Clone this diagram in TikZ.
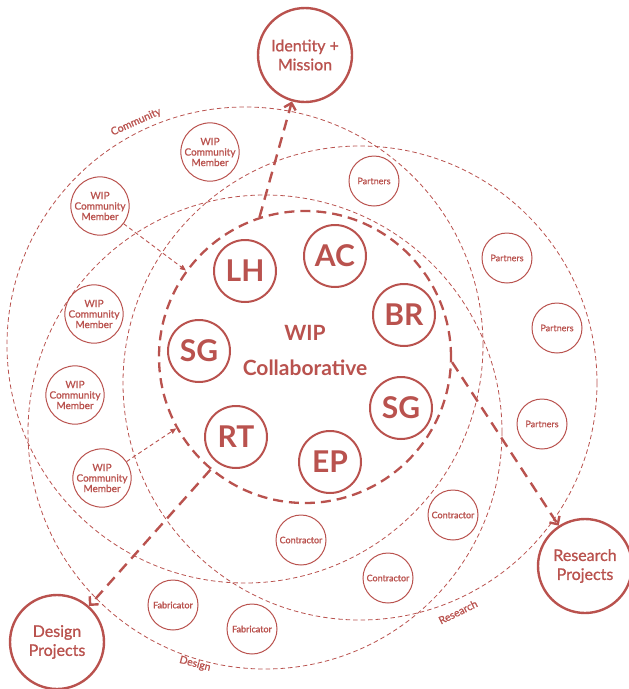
\documentclass[tikz,border=0pt]{standalone}
\usepackage{fontspec}
\setmainfont{Lato}
\newfontfamily\med{Lato}[FakeBold=1]
\usetikzlibrary{arrows.meta}
\definecolor{wipred}{HTML}{B9524E}
\begin{document}
\begin{tikzpicture}[x=1pt,y=-1pt,
  every node/.style={text=wipred},
  ring/.style={circle, draw=wipred, line width=0.8pt, dash pattern=on 4.5pt off 3pt, inner sep=0pt},
  corering/.style={circle, draw=wipred, line width=2.3pt, dash pattern=on 10pt off 6pt, minimum size=292pt, inner sep=0pt},
  member/.style={circle, draw=wipred, line width=2pt, minimum size=62pt, inner sep=0pt, font=\fontsize{30}{30}\selectfont\bfseries},
  smallring/.style={circle, draw=wipred, line width=1pt, minimum size=50pt, inner sep=0pt, align=center, font=\med\fontsize{9}{10}\selectfont},
  wcm/.style={smallring, minimum size=56pt, font=\med\fontsize{10}{10.5}\selectfont},
  bigring/.style={circle, draw=wipred, line width=2.4pt, minimum size=94pt, inner sep=0pt, align=center, font=\med\fontsize{16}{19}\selectfont},
  bigarrow/.style={draw=wipred, line width=2.4pt, dash pattern=on 11pt off 7pt, -{Straight Barb[length=6pt,width=12pt]}},
  thinarrow/.style={draw=wipred, line width=0.9pt, dash pattern=on 4pt off 3pt, -{Triangle[length=6pt,width=5pt]}},
  ringlabel/.style={font=\med\fontsize{10.5}{12}\selectfont}
]
\useasboundingbox (0,0) rectangle (629,689);

% large thin dashed rings
\node[ring, minimum size=476pt] (community) at (245,345) {};
\node[ring, minimum size=474pt] (design) at (265,432) {};
\node[ring, minimum size=474pt] (research) at (360,383) {};
\node[ringlabel, rotate=24] (commlabel) at (136,122) {Community};
\node[ringlabel, rotate=-15] (deslabel) at (195,664) {Design};
\node[ringlabel, rotate=26] (reslabel) at (458,612) {Research};

% core
\node[corering] (wip) at (305,357) {};
\node[align=center, font=\fontsize{21}{35}\selectfont\bfseries] (wiptext) at (305,350) {WIP\\Collaborative};

\node[member] (lh) at (245,271) {LH};
\node[member] (ac) at (335,256) {AC};
\node[member] (br) at (404,315) {BR};
\node[member] (sgl) at (199,351) {SG};
\node[member] (sgr) at (401,408) {SG};
\node[member] (rt) at (236,437) {RT};
\node[member] (ep) at (330,462) {EP};

% outcome circles
\node[bigring] (ident) at (305,55) {Identity +\\Mission};
\node[bigring] (dproj) at (57,642) {Design\\Projects};
\node[bigring] (rproj) at (585,566) {Research\\Projects};

% community members
\node[wcm] (wcma) at (210,152) {WIP\\Community\\Member};
\node[wcm] (wcmb) at (100,206) {WIP\\Community\\Member};
\node[wcm] (wcmc) at (94,314) {WIP\\Community\\Member};
\node[wcm] (wcmd) at (75,395) {WIP\\Community\\Member};
\node[wcm] (wcme) at (102,478) {WIP\\Community\\Member};

% partners
\node[smallring] (pa) at (374,181) {Partners};
\node[smallring] (pb) at (507,258) {Partners};
\node[smallring] (pc) at (557,328) {Partners};
\node[smallring] (pd) at (542,424) {Partners};

% contractors and fabricators
\node[smallring] (ca) at (301,540) {Contractor};
\node[smallring] (cb) at (388,578) {Contractor};
\node[smallring] (cc) at (453,515) {Contractor};
\node[smallring] (fa) at (173,605) {Fabricator};
\node[smallring] (fb) at (252,629) {Fabricator};

% arrows
\draw[bigarrow] (wip.108.6) -- (ident);
\draw[bigarrow] (wip.230.8) -- (dproj);
\draw[bigarrow] (wip.-2) -- (rproj);
\draw[thinarrow] (wcmb) -- (wip.144.7);
\draw[thinarrow] (wcme) -- (wip.209.3);
\end{tikzpicture}
\end{document}
